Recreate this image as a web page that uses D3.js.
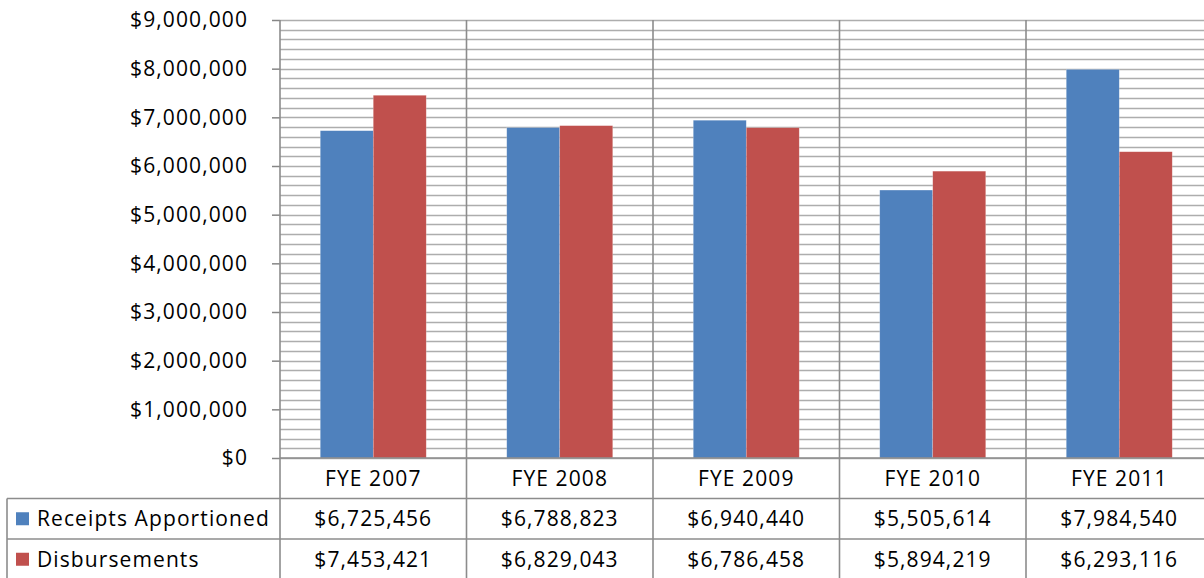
<!DOCTYPE html>
<html>
<head>
<meta charset="utf-8">
<script src="https://cdn.jsdelivr.net/npm/d3@7"></script>
<style>
  body { margin: 0; background: #fff; }
  svg text { font-family: "Open Sans", sans-serif; font-size: 21px; letter-spacing: 1.1px; fill: #000; }
</style>
</head>
<body>
<svg id="chart" width="1204" height="578"></svg>
<script>
// chart values
const categories = ["FYE 2007", "FYE 2008", "FYE 2009", "FYE 2010", "FYE 2011"];
const seriesNames = ["Receipts Apportioned", "Disbursements"];
const receipts = [6725456, 6788823, 6940440, 5505614, 7984540];
const disbursements = [7453421, 6829043, 6786458, 5894219, 6293116];
const seriesColors = ["#4F81BD", "#C0504D"];
const yTicks = [0, 1000000, 2000000, 3000000, 4000000, 5000000, 6000000, 7000000, 8000000, 9000000];

const values = [receipts, disbursements];

// layout
const plot = { left: 280, top: 20, bottom: 458, right: 1212.5 };
const rowH = 40.5;
const tableLeft = 7;

const svg = d3.select('#chart');

const x = d3.scaleBand()
  .domain(categories)
  .range([plot.left, plot.right])
  .padding(0);

const x1 = d3.scaleBand()
  .domain(seriesNames)
  .range([0, x.bandwidth()])
  .paddingInner(0)
  .paddingOuter(0.76);

const y = d3.scaleLinear()
  .domain([0, 9000000])
  .range([plot.bottom, plot.top]);

const fmt = d3.format("$,.0f");

// minor + major gridlines every 200,000
const gridVals = d3.range(0, 9000001, 200000);
svg.append('g')
  .selectAll('line')
  .data(gridVals)
  .enter()
  .append('line')
  .attr('x1', plot.left)
  .attr('x2', plot.right)
  .attr('y1', d => Math.round(y(d)) + 0.5)
  .attr('y2', d => Math.round(y(d)) + 0.5)
  .attr('stroke', '#adadad')
  .attr('stroke-width', 1.5);

// bars
const groups = svg.selectAll('.bar')
  .data(categories)
  .enter()
  .append('g')
  .attr('class', 'bar')
  .attr('transform', d => `translate(${x(d)},0)`);

seriesNames.forEach((s, si) => {
  groups.append('rect')
    .attr('x', x1(s))
    .attr('y', (d, i) => y(values[si][i]))
    .attr('width', x1.bandwidth())
    .attr('height', (d, i) => plot.bottom - y(values[si][i]))
    .attr('fill', seriesColors[si])
    .attr('stroke', 'rgba(255,255,255,0.35)')
    .attr('stroke-width', 0.6);
});

// y axis
const yAxis = d3.axisLeft(y)
  .tickValues(yTicks)
  .tickFormat(fmt)
  .tickSize(8)
  .tickPadding(24);

const yg = svg.append('g')
  .attr('transform', `translate(${plot.left},0)`)
  .call(yAxis);
yg.select('.domain').remove();
yg.selectAll('.tick line').attr('stroke', '#868686').attr('stroke-width', 1.5);
yg.selectAll('.tick text')
  .attr('fill', '#000')
  .style('font-size', '21px')
  .style('font-family', '"Open Sans", sans-serif');

// data table lines
const lineColor = '#8c8c8c';
const tableBottom = 600;
const vLines = svg.append('g').attr('stroke', lineColor).attr('stroke-width', 1.6);

// axis line and category dividers
categories.forEach(c => {
  vLines.append('line')
    .attr('x1', x(c)).attr('x2', x(c))
    .attr('y1', plot.top).attr('y2', tableBottom);
});
vLines.append('line')
  .attr('x1', plot.right).attr('x2', plot.right)
  .attr('y1', plot.top).attr('y2', tableBottom);
vLines.append('line')
  .attr('x1', tableLeft).attr('x2', tableLeft)
  .attr('y1', plot.bottom + rowH).attr('y2', tableBottom);

// horizontal table lines
const hLines = [
  { y: plot.bottom, x1: plot.left },
  { y: plot.bottom + rowH, x1: tableLeft },
  { y: plot.bottom + 2 * rowH, x1: tableLeft }
];
svg.append('g')
  .selectAll('line')
  .data(hLines)
  .enter()
  .append('line')
  .attr('x1', d => d.x1)
  .attr('x2', plot.right)
  .attr('y1', d => d.y)
  .attr('y2', d => d.y)
  .attr('stroke', lineColor)
  .attr('stroke-width', 1.6);

// category header row
svg.append('g')
  .selectAll('text')
  .data(categories)
  .enter()
  .append('text')
  .attr('x', d => x(d) + x.bandwidth() / 2)
  .attr('y', plot.bottom + rowH / 2)
  .attr('dy', '0.35em')
  .attr('text-anchor', 'middle')
  .text(d => d);

// series rows
seriesNames.forEach((s, si) => {
  const rowY = plot.bottom + rowH * (si + 1) + rowH / 2;
  svg.append('rect')
    .attr('x', 16)
    .attr('y', rowY - 6.5)
    .attr('width', 13)
    .attr('height', 13)
    .attr('fill', seriesColors[si]);
  svg.append('text')
    .attr('x', 37)
    .attr('y', rowY)
    .attr('dy', '0.35em')
    .style('letter-spacing', '1.1px')
    .text(s);
  svg.append('g')
    .selectAll('text')
    .data(categories)
    .enter()
    .append('text')
    .attr('x', d => x(d) + x.bandwidth() / 2)
    .attr('y', rowY)
    .attr('dy', '0.35em')
    .attr('text-anchor', 'middle')
    .text((d, i) => fmt(values[si][i]));
});
</script>
</body>
</html>
